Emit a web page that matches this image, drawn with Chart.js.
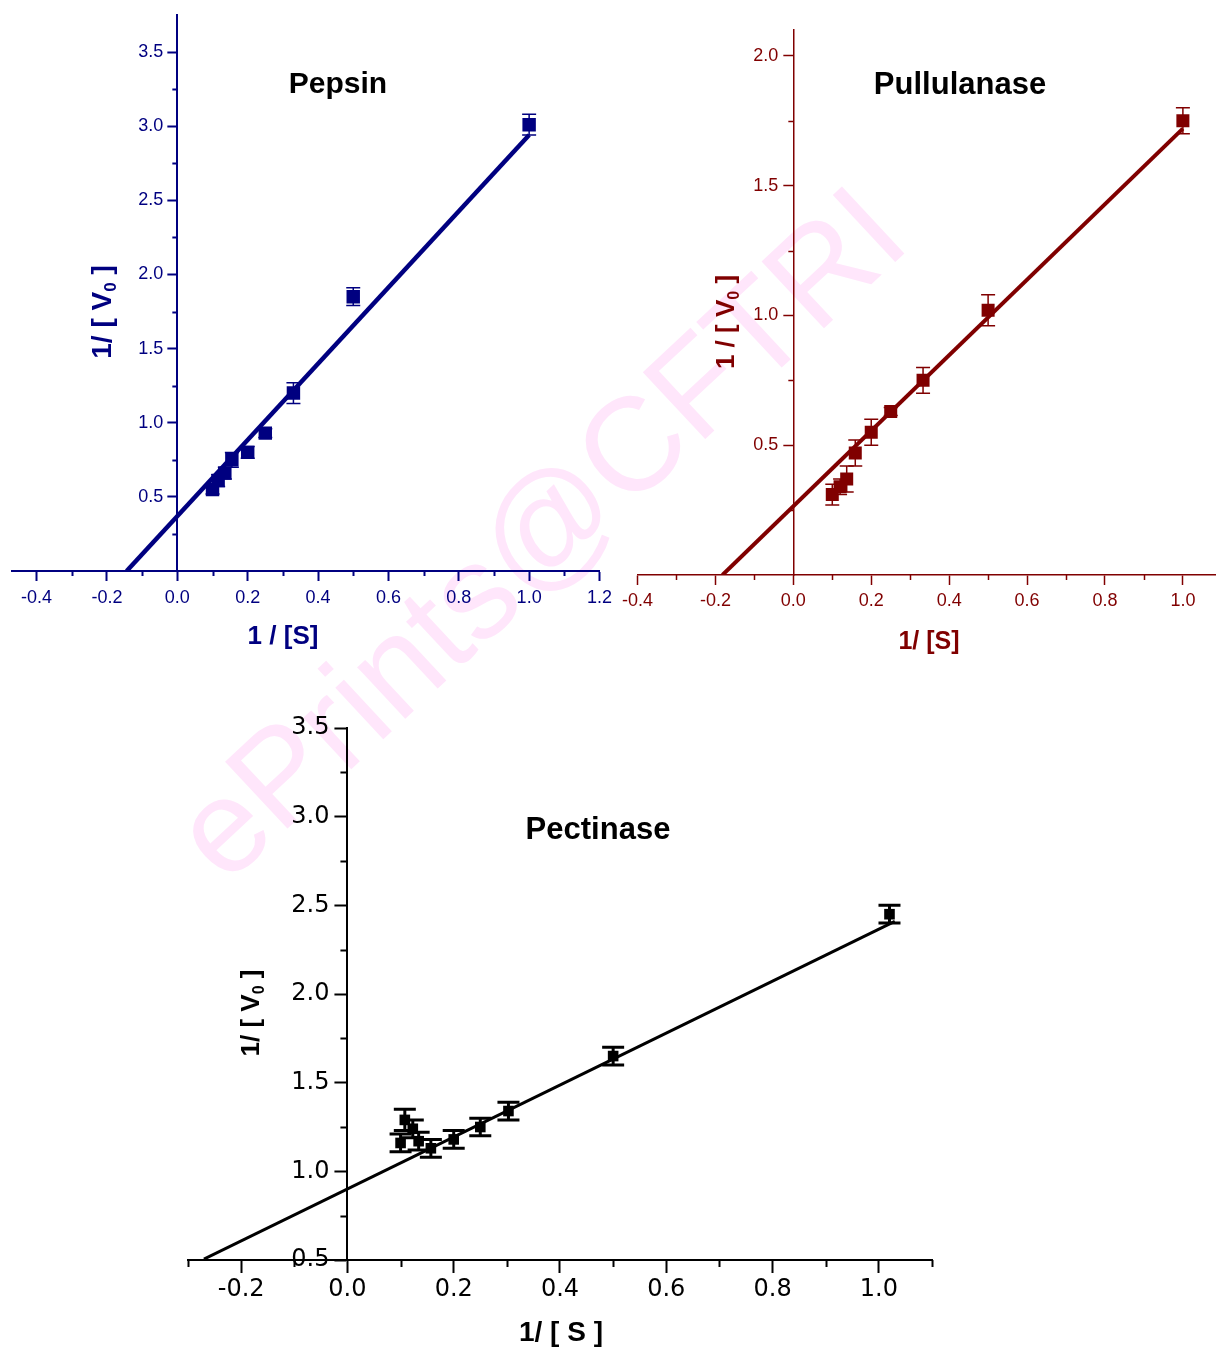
<!DOCTYPE html>
<html>
<head>
<meta charset="utf-8">
<script src="https://cdn.jsdelivr.net/npm/chart.js@4.4.1/dist/chart.umd.min.js"></script>
<style>
  html, body { margin: 0; padding: 0; background: #fff; }
  #page { position: relative; width: 1216px; height: 1348px; overflow: hidden; }
  canvas { position: absolute; }
  #mark {
    position: absolute; left: 538px; top: 532px;
    font: 133px "Liberation Sans", Arial, sans-serif;
    color: #ffe6fb; white-space: nowrap;
    transform: translate(-50%, -50%) rotate(-43deg);
  }
</style>
</head>
<body>
<div id="page">
  <div id="mark">ePrints@CFTRI</div>
  <canvas id="pepsin" width="620" height="665" style="left:0;top:0"></canvas>
  <canvas id="pullulanase" width="620" height="665" style="left:615px;top:0"></canvas>
  <canvas id="pectinase" width="800" height="648" style="left:150px;top:700px"></canvas>
</div>
<script>
// Pepsin: 1/[S] vs 1/[V0]
const pepsinX = [0.1, 0.116, 0.135, 0.155, 0.2, 0.25, 0.33, 0.5, 1.0];
const pepsinY = [0.55, 0.61, 0.66, 0.75, 0.80, 0.93, 1.20, 1.85, 3.01];
const pepsinErr = [0.03, 0.04, 0.04, 0.05, 0.04, 0.03, 0.07, 0.06, 0.07];
const pepsinFitX = [-0.144, 1.0];
const pepsinFitY = [0, 2.94];

// Pullulanase
const pullX = [0.1, 0.12, 0.137, 0.159, 0.2, 0.25, 0.333, 0.5, 1.0];
const pullY = [0.31, 0.34, 0.37, 0.47, 0.55, 0.63, 0.75, 1.02, 1.75];
const pullErr = [0.04, 0.03, 0.05, 0.05, 0.05, 0.015, 0.05, 0.06, 0.05];
const pullFitX = [-0.182, 1.0];
const pullFitY = [0, 1.72];

// Pectinase
const pectX = [0.1, 0.108, 0.123, 0.134, 0.157, 0.2, 0.25, 0.303, 0.5, 1.02];
const pectY = [1.16, 1.29, 1.24, 1.17, 1.13, 1.18, 1.25, 1.34, 1.65, 2.45];
const pectErr = [0.05, 0.06, 0.05, 0.05, 0.05, 0.05, 0.05, 0.05, 0.05, 0.05];
const pectFitX = [-0.27, 1.03];
const pectFitY = [0.505, 2.41];

// axis ranges [min, max]
const pepsinXRange = [-0.47, 1.2], pepsinYRange = [0, 3.75];
const pullXRange = [-0.4, 1.085], pullYRange = [0, 2.1];
const pectXRange = [-0.3, 1.1], pectYRange = [0.5, 3.5];

const SANS = '"Liberation Sans", Arial, sans-serif';
const WIDE = '"DejaVu Sans", Verdana, sans-serif';

// labelled ticks: every 0.2 on x, every 0.5 (above zero) on y
function isMajor(axis, v) {
  const k = Math.round(v * 100);
  return axis === 'x' ? k % 20 === 0 : (k % 50 === 0 && k > 0);
}

// put the y axis on x = 0
const crossAxis = {
  id: 'crossAxis',
  afterLayout(chart) {
    const y = chart.scales.y;
    const px = chart.scales.x.getPixelForValue(0);
    y.right = px;
    y.left = px - 90;
  }
};

function minorTicks(color, len, width) {
  return {
    id: 'minorTicks',
    afterDraw(chart) {
      const ctx = chart.ctx;
      ctx.save();
      ctx.strokeStyle = color;
      ctx.lineWidth = width;
      ['x', 'y'].forEach(id => {
        const s = chart.scales[id];
        s.ticks.forEach(t => {
          if (isMajor(id, t.value)) return;
          if (id === 'y' && (t.value <= 0 || t.value >= s.max)) return;
          const p = Math.round(s.getPixelForValue(t.value)) + 0.5;
          ctx.beginPath();
          if (id === 'x') { ctx.moveTo(p, s.top); ctx.lineTo(p, s.top + len); }
          else { ctx.moveTo(s.right, p); ctx.lineTo(s.right - len, p); }
          ctx.stroke();
        });
      });
      ctx.restore();
    }
  };
}

function errorBars(err, color, width, cap) {
  return {
    id: 'errorBars',
    afterDatasetsDraw(chart) {
      const { ctx, scales: { x, y } } = chart;
      const pts = chart.data.datasets[1].data;
      ctx.save();
      ctx.strokeStyle = color;
      ctx.lineWidth = width;
      pts.forEach((p, i) => {
        const px = x.getPixelForValue(p.x);
        const top = y.getPixelForValue(p.y + err[i]);
        const bot = y.getPixelForValue(p.y - err[i]);
        ctx.beginPath();
        ctx.moveTo(px, top); ctx.lineTo(px, bot);
        ctx.moveTo(px - cap, top); ctx.lineTo(px + cap, top);
        ctx.moveTo(px - cap, bot); ctx.lineTo(px + cap, bot);
        ctx.stroke();
      });
      ctx.restore();
    }
  };
}

// titles, with optional subscript parts
function texts(items) {
  return {
    id: 'texts',
    afterDraw(chart) {
      const ctx = chart.ctx;
      items.forEach(it => {
        const main = `bold ${it.size}px ${SANS}`;
        const small = `bold ${Math.round(it.size * 0.62)}px ${SANS}`;
        ctx.save();
        ctx.translate(it.x, it.y);
        if (it.rot) ctx.rotate(it.rot * Math.PI / 180);
        ctx.fillStyle = it.color;
        ctx.textBaseline = 'middle';
        ctx.textAlign = 'left';
        let w = 0;
        it.parts.forEach(([t, sub]) => { ctx.font = sub ? small : main; w += ctx.measureText(t).width; });
        let cx = -w / 2;
        it.parts.forEach(([t, sub]) => {
          ctx.font = sub ? small : main;
          ctx.fillText(t, cx, sub ? it.size * 0.28 : 0);
          cx += ctx.measureText(t).width;
        });
        ctx.restore();
      });
    }
  };
}

function panel(id, o) {
  const canvas = document.getElementById(id);
  const H = canvas.height;
  const pts = o.xs.map((x, i) => ({ x, y: o.ys[i] }));
  const fit = o.fitX.map((x, i) => ({ x, y: o.fitY[i] }));
  const font = { family: o.tickFamily, size: o.tickSize, lineHeight: 1 };
  const tickColor = axis => c => (c.tick && isMajor(axis, c.tick.value)) ? o.color : 'rgba(0,0,0,0)';

  new Chart(canvas, {
    type: 'scatter',
    data: {
      datasets: [
        { data: fit, showLine: true, pointRadius: 0, borderColor: o.color, borderWidth: o.fitWidth, order: 0 },
        { data: pts, pointStyle: 'rect', pointRadius: o.marker, backgroundColor: o.color, borderWidth: 0, order: 1 }
      ]
    },
    options: {
      responsive: false,
      animation: false,
      events: [],
      layout: { padding: o.pad },
      plugins: { legend: { display: false }, tooltip: { enabled: false } },
      scales: {
        x: {
          type: 'linear', position: 'bottom',
          min: o.xRange[0], max: o.xRange[1],
          afterFit: s => { s.height = H - o.bottom; },
          ticks: {
            stepSize: 0.1, includeBounds: false, autoSkip: false, maxRotation: 0,
            padding: o.xPad, color: o.color, font,
            callback: v => isMajor('x', v) ? v.toFixed(1) : ''
          },
          grid: { drawOnChartArea: false, tickLength: o.tick, tickWidth: o.axisW, tickColor: tickColor('x') },
          border: { color: o.color, width: o.axisW }
        },
        y: {
          type: 'linear', position: 'left',
          min: o.yRange[0], max: o.yRange[1],
          afterFit: s => { s.width = 0; },
          ticks: {
            stepSize: 0.25, includeBounds: false, autoSkip: false,
            padding: o.yPad, color: o.color, font,
            callback: v => isMajor('y', v) ? v.toFixed(1) : ''
          },
          grid: { drawOnChartArea: false, tickLength: o.tick, tickWidth: o.axisW, tickColor: tickColor('y') },
          border: { color: o.color, width: o.axisW }
        }
      }
    },
    plugins: [crossAxis, minorTicks(o.color, o.minor, o.axisW), errorBars(o.err, o.color, o.errW, o.cap), texts(o.texts)]
  });
}

const NAVY = '#000080', MAROON = '#800000', BLACK = '#000000';

panel('pepsin', {
  xs: pepsinX, ys: pepsinY, err: pepsinErr, fitX: pepsinFitX, fitY: pepsinFitY,
  xRange: pepsinXRange, yRange: pepsinYRange,
  color: NAVY, pad: { left: 12, top: 15, right: 20, bottom: 0 }, bottom: 571,
  tickFamily: SANS, tickSize: 18, tick: 10, minor: 5, xPad: 8, yPad: 4, axisW: 2,
  marker: 9.5, fitWidth: 4.5, errW: 1.5, cap: 7,
  texts: [
    { parts: [['Pepsin']], x: 338, y: 85, size: 30, color: BLACK },
    { parts: [['1/ [ V'], ['0', 1], [' ]']], x: 103, y: 312, size: 28, rot: -90, color: NAVY },
    { parts: [['1 / [S]']], x: 283, y: 637, size: 26, color: NAVY }
  ]
});

panel('pullulanase', {
  xs: pullX, ys: pullY, err: pullErr, fitX: pullFitX, fitY: pullFitY,
  xRange: pullXRange, yRange: pullYRange,
  color: MAROON, pad: { left: 18, top: 30, right: 19, bottom: 0 }, bottom: 575,
  tickFamily: SANS, tickSize: 18, tick: 10, minor: 5, xPad: 7, yPad: 5, axisW: 1.5,
  marker: 9.2, fitWidth: 4, errW: 1.5, cap: 7,
  texts: [
    { parts: [['Pullulanase']], x: 345, y: 85, size: 31, color: BLACK },
    { parts: [['1 / [ V'], ['0', 1], [' ]']], x: 112, y: 322, size: 26, rot: -90, color: MAROON },
    { parts: [['1/ [S]']], x: 314, y: 642, size: 25, color: MAROON }
  ]
});

panel('pectinase', {
  xs: pectX, ys: pectY, err: pectErr, fitX: pectFitX, fitY: pectFitY,
  xRange: pectXRange, yRange: pectYRange,
  color: BLACK, pad: { left: 38, top: 28, right: 18, bottom: 0 }, bottom: 560,
  tickFamily: WIDE, tickSize: 24, tick: 13, minor: 7, xPad: 5, yPad: 5, axisW: 2,
  marker: 7.5, fitWidth: 3, errW: 3, cap: 11,
  texts: [
    { parts: [['Pectinase']], x: 448, y: 130, size: 31, color: BLACK },
    { parts: [['1/ [ V'], ['0', 1], [' ]']], x: 102, y: 313, size: 26, rot: -90, color: BLACK },
    { parts: [['1/ [ S ]']], x: 411, y: 633, size: 28, color: BLACK }
  ]
});
</script>
</body>
</html>
